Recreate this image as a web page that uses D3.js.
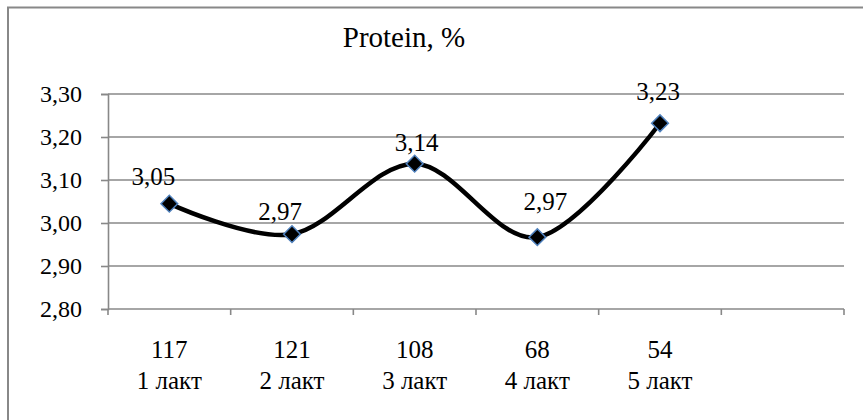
<!DOCTYPE html>
<html>
<head>
<meta charset="utf-8">
<script src="https://cdn.jsdelivr.net/npm/d3@7"></script>
<style>
  body { margin: 0; background: #fff; }
</style>
</head>
<body>
<svg id="chart"></svg>
<script>
// data
const herdSizes = ['117', '121', '108', '68', '54', ''];
const lactations = ['1 лакт', '2 лакт', '3 лакт', '4 лакт', '5 лакт', ''];
const protein = [3.045, 2.974, 3.138, 2.967, 3.232];
const proteinLabels = ['3,05', '2,97', '3,14', '2,97', '3,23'];
const yTicks = [2.8, 2.9, 3.0, 3.1, 3.2, 3.3];

// small manual nudges of the data labels [dx, dy above marker]
const labelNudge = [[-16, 19], [-12, 14], [2, 13], [8, 27], [-2, 23]];

const FONT = 'Liberation Serif';
const width = 863, height = 420;
const margin = { top: 94, right: 19, bottom: 111, left: 108 };
const innerWidth = width - margin.left - margin.right;
const innerHeight = height - margin.top - margin.bottom;

const svg = d3.select('#chart').attr('width', width).attr('height', height)
  .attr('font-family', FONT);

// outer chart border (left and top edges; the rest runs off the picture)
svg.append('path')
  .attr('d', `M8,${height} V7.5 H${width}`)
  .attr('fill', 'none').attr('stroke', '#888').attr('stroke-width', 2);

svg.append('text')
  .attr('x', 404).attr('y', 47)
  .attr('text-anchor', 'middle')
  .attr('font-family', FONT)
  .attr('font-size', 29)
  .text('Protein, %');

const g = svg.append('g').attr('transform', `translate(${margin.left},${margin.top})`);

const idx = d3.range(herdSizes.length);
const x = d3.scaleBand().domain(idx).range([0, innerWidth]);
const y = d3.scaleLinear().domain([2.8, 3.3]).range([innerHeight, 0]);

// gridlines
g.append('g').selectAll('line')
  .data(yTicks.filter(d => d > 2.8))
  .enter().append('line')
  .attr('x1', 0).attr('x2', innerWidth)
  .attr('y1', d => y(d)).attr('y2', d => y(d))
  .attr('stroke', '#888').attr('stroke-width', 1.6);

// y axis
const yAxis = g.append('g')
  .call(d3.axisLeft(y).tickValues(yTicks).tickSize(7).tickPadding(19)
    .tickFormat(d => d3.format('.2f')(d).replace('.', ',')));
yAxis.attr('font-family', FONT).attr('font-size', 24);
yAxis.select('.domain').attr('stroke', '#888').attr('stroke-width', 1.6);
yAxis.selectAll('.tick line').attr('stroke', '#888').attr('stroke-width', 1.6);
yAxis.selectAll('.tick text').attr('fill', '#000');

// x axis with ticks at category boundaries
const xAxis = g.append('g').attr('transform', `translate(0,${innerHeight})`);
xAxis.append('line')
  .attr('x1', 0).attr('x2', innerWidth)
  .attr('stroke', '#888').attr('stroke-width', 1.6);
xAxis.selectAll('line.tk')
  .data(d3.range(herdSizes.length + 1))
  .enter().append('line')
  .attr('class', 'tk')
  .attr('x1', i => i * x.step()).attr('x2', i => i * x.step())
  .attr('y1', 0).attr('y2', 6)
  .attr('stroke', '#888').attr('stroke-width', 1.6);

const cx = i => x(i) + x.bandwidth() / 2;

const lbl = xAxis.selectAll('text.cat')
  .data(idx)
  .enter().append('text')
  .attr('class', 'cat')
  .attr('text-anchor', 'middle')
  .attr('font-family', FONT)
  .attr('font-size', 25);
lbl.append('tspan').attr('x', cx).attr('y', 49).text(i => herdSizes[i]);
lbl.append('tspan').attr('x', cx).attr('y', 80).text(i => lactations[i]);

// smoothed line
const line = d3.line()
  .x((d, i) => cx(i))
  .y(d => y(d))
  .curve(d3.curveCatmullRom.alpha(0));

g.append('path')
  .datum(protein)
  .attr('d', line)
  .attr('fill', 'none')
  .attr('stroke', '#000')
  .attr('stroke-width', 4.5)
  .attr('stroke-linejoin', 'round');

// diamond markers
const diamond = d3.symbol().type(d3.symbolSquare).size(140);
g.selectAll('path.mk')
  .data(protein)
  .enter().append('path')
  .attr('class', 'mk')
  .attr('d', diamond)
  .attr('transform', (d, i) => `translate(${cx(i)},${y(d)}) rotate(45)`)
  .attr('fill', '#000')
  .attr('stroke', '#4F81BD')
  .attr('stroke-width', 1.5);

// data labels
g.selectAll('text.val')
  .data(protein)
  .enter().append('text')
  .attr('class', 'val')
  .attr('text-anchor', 'middle')
  .attr('font-family', FONT)
  .attr('font-size', 25)
  .attr('x', (d, i) => cx(i) + labelNudge[i][0])
  .attr('y', (d, i) => y(d) - labelNudge[i][1])
  .text((d, i) => proteinLabels[i]);
</script>
</body>
</html>
